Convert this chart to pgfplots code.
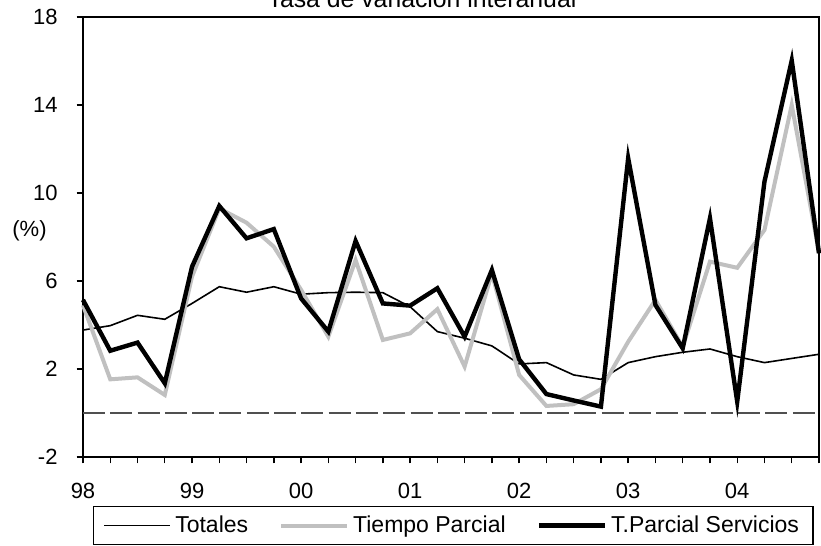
\documentclass[border=0pt]{standalone}
\usepackage{fontspec}
\setmainfont{Liberation Sans}
\usepackage{pgfplots}
\pgfplotsset{compat=1.18}

\definecolor{tpgray}{RGB}{192,192,192}
\definecolor{zerogray}{RGB}{80,80,80}

\newcommand{\lab}{\fontsize{11}{13}\selectfont}

\begin{document}
\begin{tikzpicture}
\begin{axis}[
    scale only axis,
    width=368pt, height=220pt,
    xmin=0, xmax=27,
    ymin=-2, ymax=18,
    axis line style={line width=0.7pt},
    xtick={0,...,27},
    xticklabels={98,,,,99,,,,00,,,,01,,,,02,,,,03,,,,04,,,},
    ytick={-2,2,6,10,14,18},
    yticklabels={-2,2,6,10,14,18},
    tick pos=left,
    tick align=outside,
    major tick length=3.2pt,
    tick style={line width=0.7pt, black},
    every tick label/.append style={font=\lab},
    xticklabel style={yshift=-6.5pt},
    yticklabel style={xshift=-6pt},
    clip=false,
    legend columns=3,
    legend style={
        at={(0,0)}, anchor=north west, xshift=5pt, yshift=-24.5pt,
        draw=black, line width=0.7pt,
        inner xsep=5pt, inner ysep=2.5pt,
        font=\fontsize{11.5}{13.5}\selectfont,
        /tikz/every even column/.append style={column sep=13.5pt},
    },
    legend cell align=left,
    legend image code/.code={\draw[#1] (0pt,0pt) -- (33pt,0pt);},
]

% linea de cero
\addplot[zerogray, line width=0.6pt, dash pattern=on 11pt off 2.65pt, forget plot]
    coordinates {(0,0) (27,0)};

% Totales
\addplot[black, line width=0.8pt] coordinates {
    (0,3.77) (1,3.97) (2,4.44) (3,4.26) (4,4.98) (5,5.74) (6,5.49) (7,5.74)
    (8,5.40) (9,5.47) (10,5.49) (11,5.47) (12,4.83) (13,3.70) (14,3.40) (15,3.05)
    (16,2.23) (17,2.29) (18,1.73) (19,1.53) (20,2.29) (21,2.56) (22,2.76) (23,2.91)
    (24,2.56) (25,2.29) (26,2.48) (27,2.67)
};
\addlegendentry{Totales}

% Tiempo Parcial
\addplot[tpgray, line width=2pt] coordinates {
    (0,4.90) (1,1.53) (2,1.62) (3,0.82) (4,6.20) (5,9.30) (6,8.65) (7,7.56)
    (8,5.60) (9,3.47) (10,6.95) (11,3.32) (12,3.62) (13,4.72) (14,2.11) (15,6.35)
    (16,1.73) (17,0.32) (18,0.40) (19,1.08) (20,3.24) (21,5.14) (22,3.00) (23,6.88)
    (24,6.60) (25,8.32) (26,14.00) (27,7.30)
};
\addlegendentry{Tiempo Parcial}

% T.Parcial Servicios
\addplot[black, line width=2.2pt] coordinates {
    (0,5.14) (1,2.83) (2,3.20) (3,1.35) (4,6.65) (5,9.41) (6,7.94) (7,8.36)
    (8,5.21) (9,3.70) (10,7.82) (11,4.98) (12,4.88) (13,5.67) (14,3.47) (15,6.50)
    (16,2.44) (17,0.86) (18,0.57) (19,0.29) (20,11.58) (21,4.91) (22,2.94) (23,8.85)
    (24,0.52) (25,10.52) (26,16.02) (27,7.26)
};
\addlegendentry{T.Parcial Servicios}

\node[font=\lab] at (rel axis cs:-0.0727,0.515) {(\%)};
% titulo, cortado por el borde superior como en el original
\node[font=\fontsize{12.4}{14}\selectfont, anchor=base, yshift=5pt]
    at (rel axis cs:0.4606,1) {Tasa de variación interanual};

\coordinate (sw) at (rel axis cs:0,0);
\coordinate (ne) at (rel axis cs:1,1);
\end{axis}
\pgfresetboundingbox
\path[use as bounding box] ([xshift=-41.5pt,yshift=-44.5pt]sw) rectangle ([xshift=1pt,yshift=8.5pt]ne);
\end{tikzpicture}
\end{document}
